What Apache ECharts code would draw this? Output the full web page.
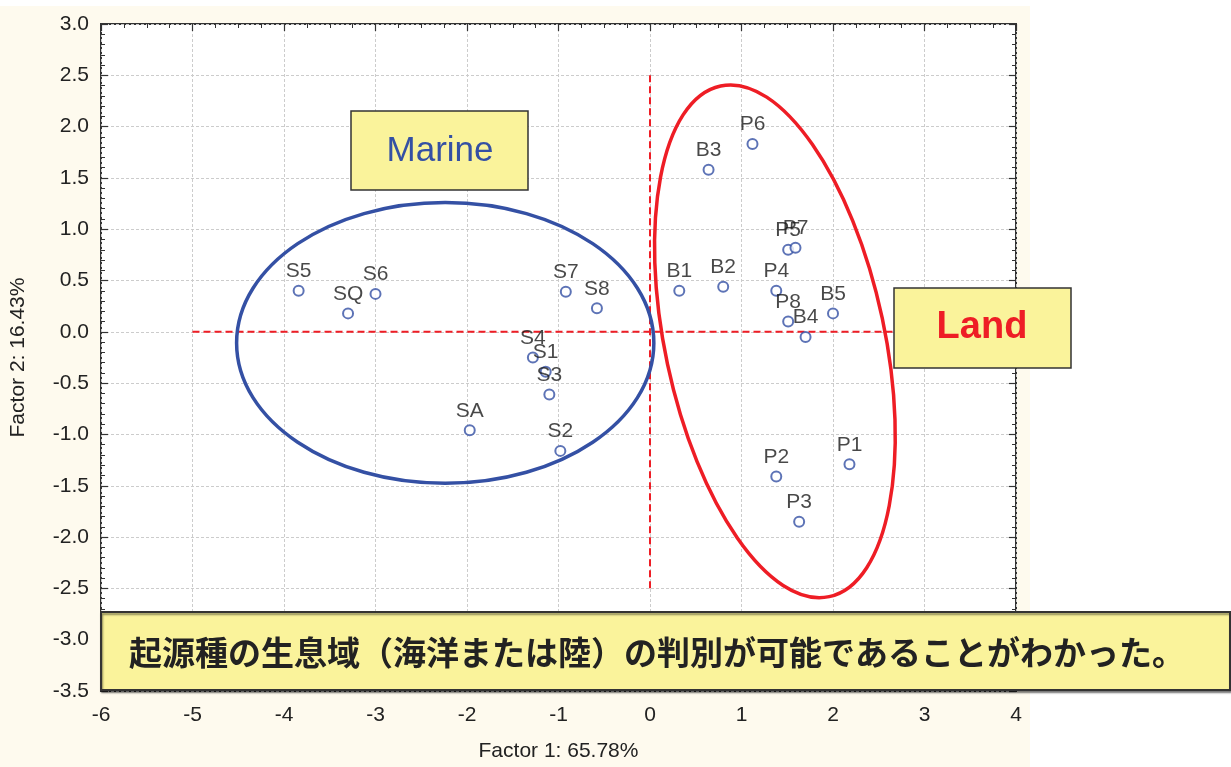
<!DOCTYPE html>
<html>
<head>
<meta charset="utf-8">
<script src="https://cdn.jsdelivr.net/npm/echarts@6/dist/echarts.min.js"></script>
<style>
  html, body { margin: 0; padding: 0; background: #fff; }
  #wrap { position: relative; width: 1231px; height: 767px; }
  #cream { position: absolute; left: 0; top: 6px; width: 1030px; height: 761px; background: #fefaee; }
  #chart { position: absolute; left: 0; top: 0; width: 1231px; height: 767px; }
</style>
</head>
<body>
<div id="wrap">
  <div id="cream"></div>
  <div id="chart"></div>
</div>
<script>
// sample scores on the first two factors
const pointNames = ['S5', 'S6', 'SQ', 'S7', 'S8', 'S4', 'S1', 'S3', 'SA', 'S2',
  'B1', 'B2', 'B3', 'P6', 'P5', 'P7', 'P4', 'P8', 'B4', 'B5', 'P1', 'P2', 'P3'];
const factor1 = [-3.84, -3.00, -3.30, -0.92, -0.58, -1.28, -1.14, -1.10, -1.97, -0.98,
  0.32, 0.80, 0.64, 1.12, 1.51, 1.59, 1.38, 1.51, 1.70, 2.00, 2.18, 1.38, 1.63];
const factor2 = [0.40, 0.37, 0.18, 0.39, 0.23, -0.25, -0.39, -0.61, -0.96, -1.16,
  0.40, 0.44, 1.58, 1.83, 0.80, 0.82, 0.40, 0.10, -0.05, 0.18, -1.29, -1.41, -1.85];

// group outlines (data units, tilt in degrees)
const groupNames = ['Marine', 'Land'];
const ellipseCenterX = [-2.238, 1.365];
const ellipseCenterY = [-0.108, -0.092];
const ellipseRadiusX = [2.28, 1.20];
const ellipseRadiusY = [1.368, 2.544];
const ellipseTilt = [0, 12];
const ellipseColors = ['#3450a4', '#ee1d25'];

// red dashed reference lines
const hLineX = [-5, 3];
const vLineY = [2.5, -2.5];

const xTicks = { min: -6, max: 4, interval: 1 };
const yTicks = { min: -3.5, max: 3, interval: 0.5 };

const conclusion = '起源種の生息域（海洋または陸）の判別が可能であることがわかった。';

const latin = '"Liberation Sans", Arial, sans-serif';
const chart = echarts.init(document.getElementById('chart'));

const tickStyle = { inside: true, length: 7, lineStyle: { color: '#333', width: 1.2 } };
const minorStyle = { show: true, length: 4, lineStyle: { color: '#333', width: 1 } };
const noLine = { show: false, onZero: false };

const option = {
  backgroundColor: 'transparent',
  animation: false,
  grid: {
    left: 100, right: 215, top: 24, bottom: 73,
    show: true, backgroundColor: '#fff', borderColor: '#333', borderWidth: 2
  },
  xAxis: [{
    type: 'value', min: xTicks.min, max: xTicks.max, interval: xTicks.interval,
    name: 'Factor 1: 65.78%', nameLocation: 'middle', nameGap: 50,
    nameTextStyle: { fontFamily: latin, fontSize: 21, color: '#222' },
    axisLine: noLine,
    axisTick: tickStyle,
    minorTick: Object.assign({ splitNumber: 4 }, minorStyle),
    axisLabel: { fontFamily: latin, fontSize: 21, color: '#222', margin: 14 },
    splitLine: { show: true, lineStyle: { color: '#cccccc', type: [3, 2], width: 1 } }
  }, {
    type: 'value', position: 'top', min: xTicks.min, max: xTicks.max, interval: xTicks.interval,
    axisLine: noLine, axisTick: tickStyle,
    minorTick: Object.assign({ splitNumber: 4 }, minorStyle),
    axisLabel: { show: false }, splitLine: { show: false }
  }],
  yAxis: [{
    type: 'value', min: yTicks.min, max: yTicks.max, interval: yTicks.interval,
    name: 'Factor 2: 16.43%', nameLocation: 'middle', nameGap: 72,
    nameTextStyle: { fontFamily: latin, fontSize: 21, color: '#222' },
    axisLine: noLine,
    axisTick: tickStyle,
    minorTick: Object.assign({ splitNumber: 5 }, minorStyle),
    axisLabel: { fontFamily: latin, fontSize: 21, color: '#222', margin: 12, formatter: v => v.toFixed(1) },
    splitLine: { show: true, lineStyle: { color: '#cccccc', type: [3, 2], width: 1 } }
  }, {
    type: 'value', position: 'right', min: yTicks.min, max: yTicks.max, interval: yTicks.interval,
    axisLine: noLine, axisTick: tickStyle,
    minorTick: Object.assign({ splitNumber: 5 }, minorStyle),
    axisLabel: { show: false }, splitLine: { show: false }
  }],
  series: [
    {
      type: 'line', name: 'h-ref', symbol: 'none', z: 2,
      data: hLineX.map(x => [x, 0]),
      lineStyle: { color: '#ee1d25', width: 2, type: [7, 4] }
    },
    {
      type: 'line', name: 'v-ref', symbol: 'none', z: 2,
      data: vLineY.map(y => [0, y]),
      lineStyle: { color: '#ee1d25', width: 2, type: [7, 4] }
    },
    {
      type: 'custom', name: 'groups', z: 3, clip: false,
      data: groupNames.map((g, i) => [ellipseCenterX[i], ellipseCenterY[i], ellipseRadiusX[i], ellipseRadiusY[i], ellipseTilt[i]]),
      encode: { x: 0, y: 1 },
      renderItem: (params, api) => {
        const c = api.coord([api.value(0), api.value(1)]);
        const s = api.size([api.value(2), api.value(3)]);
        return {
          type: 'ellipse',
          x: c[0], y: c[1],
          rotation: api.value(4) * Math.PI / 180,
          shape: { cx: 0, cy: 0, rx: s[0], ry: s[1] },
          style: { fill: 'none', stroke: ellipseColors[params.dataIndex], lineWidth: 3.5 }
        };
      }
    },
    {
      type: 'scatter', name: 'samples', z: 5,
      symbol: 'emptyCircle', symbolSize: 10,
      itemStyle: { color: '#3450a4', borderWidth: 1.5 },
      label: {
        show: true, position: 'top', distance: 3,
        formatter: p => p.name,
        fontFamily: latin, fontSize: 21, color: '#1a1a1a'
      },
      data: pointNames.map((n, i) => ({ name: n, value: [factor1[i], factor2[i]] }))
    }
  ],
  graphic: [
    { type: 'rect', z: 100, shape: { x: 351, y: 111, width: 177, height: 79 },
      style: { fill: '#faf39b', stroke: '#333', lineWidth: 1.5 } },
    { type: 'text', z: 101, x: 440, y: 151,
      style: { text: groupNames[0], fill: '#3450a4', font: '35px ' + latin, align: 'center', verticalAlign: 'middle' } },
    { type: 'rect', z: 100, shape: { x: 894, y: 288, width: 177, height: 80 },
      style: { fill: '#faf39b', stroke: '#333', lineWidth: 1.5 } },
    { type: 'text', z: 101, x: 982, y: 328,
      style: { text: groupNames[1], fill: '#ee1d25', font: 'bold 38px ' + latin, align: 'center', verticalAlign: 'middle' } },
    { type: 'rect', z: 100, shape: { x: 101, y: 612, width: 1129, height: 78 },
      style: { fill: '#faf39b', stroke: '#333', lineWidth: 2, shadowColor: 'rgba(0,0,0,0.45)', shadowOffsetX: 1, shadowOffsetY: 2, shadowBlur: 2 } },
    { type: 'text', z: 101, x: 129, y: 652,
      style: { text: conclusion, fill: '#222', font: 'bold 33px "Noto Sans CJK JP", sans-serif', align: 'left', verticalAlign: 'middle' } }
  ]
};

chart.setOption(option);
</script>
</body>
</html>
